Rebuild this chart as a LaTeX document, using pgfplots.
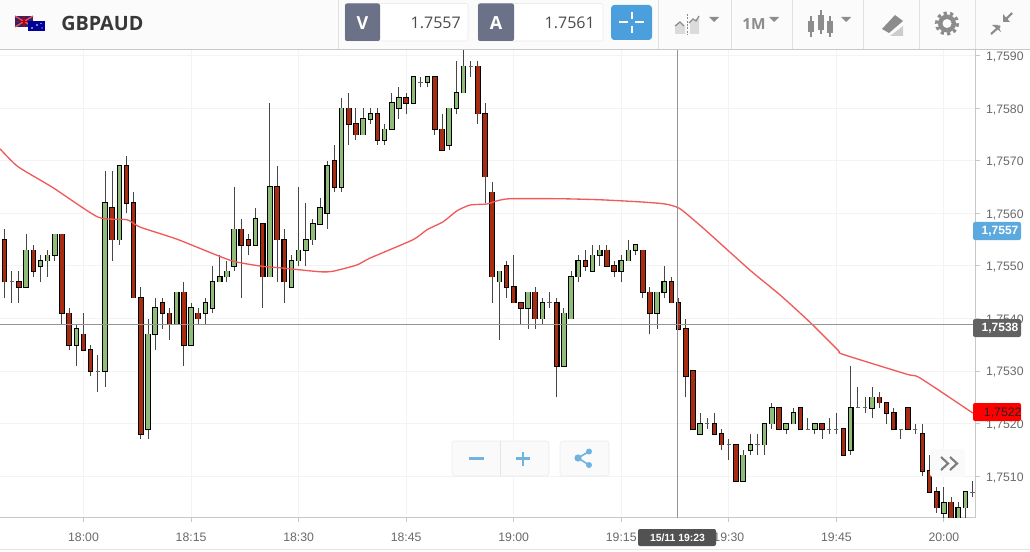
\documentclass[border=0pt]{standalone}
\usepackage{fontspec}
\usepackage{pgfplots}
\usepackage{pgfplotstable}
\pgfplotsset{compat=1.18}
\setmainfont{Liberation Sans}
\newfontfamily\headfont{Open Sans}
\definecolor{upGreen}{RGB}{143,188,120}
\definecolor{downRed}{RGB}{168,44,18}
\definecolor{maRed}{RGB}{240,90,90}
\definecolor{gridGray}{RGB}{243,243,243}
\definecolor{axisGray}{RGB}{200,200,200}
\definecolor{labelGray}{RGB}{105,105,105}
\definecolor{slate}{RGB}{107,113,134}
\definecolor{iconGray}{RGB}{140,140,140}
\definecolor{btnBlue}{RGB}{74,159,220}
\definecolor{softBlue}{RGB}{112,179,224}

% minutes after 18:00, open high low close
\pgfplotstableread{
m o h l c
-8 1.7546 1.7556 1.7546 1.7553
-6 1.7550 1.7552 1.7547 1.7551
-5 1.7551 1.7553 1.7548 1.7552
-4 1.7552 1.7556 1.7551 1.7556
-1 1.7535 1.7539 1.7531 1.7538
3 1.7530 1.7568 1.7527 1.7562
5 1.7555 1.7569 1.7554 1.7569
9 1.7519 1.7540 1.7517 1.7537
10 1.7537 1.7544 1.7534 1.7542
13 1.7539 1.7545 1.7539 1.7545
15 1.7535 1.7543 1.7535 1.7542
17 1.7541 1.7544 1.7539 1.7543
18 1.7542 1.7550 1.7541 1.7547
19 1.7547 1.7552 1.7547 1.7548
20 1.7548 1.7551 1.7547 1.7549
21 1.7550 1.7565 1.7549 1.7557
24 1.7554 1.7561 1.7554 1.7559
26 1.7548 1.7581 1.7548 1.7565
29 1.7546 1.7552 1.7546 1.7551
30 1.7551 1.7565 1.7550 1.7553
31 1.7553 1.7562 1.7550 1.7555
32 1.7555 1.7559 1.7554 1.7558
33 1.7558 1.7563 1.7558 1.7561
34 1.7560 1.7570 1.7557 1.7569
36 1.7565 1.7582 1.7564 1.7580
39 1.7575 1.7580 1.7575 1.7578
40 1.7578 1.7580 1.7577 1.7579
42 1.7574 1.7577 1.7573 1.7576
43 1.7576 1.7583 1.7576 1.7581
44 1.7580 1.7584 1.7578 1.7582
46 1.7581 1.7586 1.7581 1.7586
48 1.7585 1.7586 1.7584 1.7586
51 1.7573 1.7580 1.7572 1.7580
52 1.7580 1.7589 1.7579 1.7583
53 1.7583 1.7592 1.7583 1.7588
58 1.7547 1.7549 1.7536 1.7549
62 1.7542 1.7545 1.7538 1.7545
64 1.7540 1.7544 1.7539 1.7543
67 1.7531 1.7542 1.7531 1.7541
68 1.7540 1.7549 1.7540 1.7548
69 1.7548 1.7552 1.7547 1.7551
71 1.7549 1.7554 1.7549 1.7552
72 1.7552 1.7554 1.7550 1.7553
75 1.7549 1.7552 1.7547 1.7551
76 1.7551 1.7555 1.7551 1.7553
77 1.7553 1.7554 1.7552 1.7554
80 1.7541 1.7545 1.7538 1.7545
81 1.7545 1.7550 1.7544 1.7547
86 1.7518 1.7522 1.7518 1.7520
92 1.7509 1.7515 1.7509 1.7514
93 1.7515 1.7518 1.7514 1.7516
95 1.7516 1.7520 1.7514 1.7520
96 1.7520 1.7524 1.7519 1.7523
98 1.7519 1.7520 1.7518 1.7520
99 1.7520 1.7523 1.7520 1.7522
102 1.7519 1.7520 1.7518 1.7520
107 1.7515 1.7531 1.7514 1.7523
110 1.7523 1.7527 1.7521 1.7525
120 1.7503 1.7508 1.7502 1.7505
122 1.7502 1.7505 1.7502 1.7504
123 1.7504 1.7507 1.7502 1.7507
}\upcandles

\pgfplotstableread{
m o h l c
-11 1.7555 1.7557 1.7544 1.7547
-9 1.7547 1.7549 1.7543 1.7546
-7 1.7553 1.7554 1.7548 1.7549
-3 1.7556 1.7556 1.7539 1.7541
-2 1.7541 1.7542 1.7534 1.7535
0 1.7537 1.7541 1.7534 1.7534
1 1.7534 1.7535 1.7529 1.7530
4 1.7561 1.7568 1.7551 1.7555
6 1.7569 1.7571 1.7560 1.7562
7 1.7562 1.7564 1.7544 1.7544
8 1.7544 1.7546 1.7517 1.7518
11 1.7543 1.7544 1.7538 1.7541
12 1.7541 1.7542 1.7536 1.7539
14 1.7545 1.7547 1.7531 1.7535
16 1.7541 1.7542 1.7539 1.7540
22 1.7557 1.7559 1.7544 1.7554
23 1.7555 1.7556 1.7552 1.7554
25 1.7558 1.7558 1.7542 1.7548
27 1.7565 1.7569 1.7547 1.7555
28 1.7555 1.7557 1.7543 1.7547
35 1.7570 1.7573 1.7564 1.7565
37 1.7580 1.7583 1.7573 1.7577
38 1.7577 1.7580 1.7574 1.7575
41 1.7579 1.7580 1.7573 1.7574
45 1.7582 1.7583 1.7579 1.7581
49 1.7586 1.7586 1.7575 1.7576
50 1.7576 1.7579 1.7572 1.7572
55 1.7588 1.7589 1.7577 1.7579
56 1.7579 1.7581 1.7562 1.7567
57 1.7564 1.7566 1.7543 1.7548
59 1.7550 1.7551 1.7544 1.7546
60 1.7546 1.7552 1.7543 1.7543
61 1.7543 1.7543 1.7539 1.7542
63 1.7545 1.7546 1.7538 1.7540
66 1.7543 1.7544 1.7525 1.7531
70 1.7551 1.7553 1.7549 1.7550
73 1.7553 1.7554 1.7550 1.7550
74 1.7550 1.7551 1.7548 1.7549
78 1.7553 1.7553 1.7544 1.7545
79 1.7545 1.7546 1.7537 1.7541
82 1.7547 1.7548 1.7543 1.7543
83 1.7543 1.7544 1.7538 1.7538
84 1.7538 1.7540 1.7525 1.7529
85 1.7530 1.7530 1.7519 1.7519
88 1.7520 1.7522 1.7518 1.7518
89 1.7518 1.7519 1.7515 1.7516
91 1.7516 1.7516 1.7509 1.7509
97 1.7523 1.7523 1.7519 1.7519
100 1.7523 1.7523 1.7519 1.7519
103 1.7520 1.7520 1.7517 1.7519
106 1.7519 1.7519 1.7514 1.7514
111 1.7525 1.7526 1.7523 1.7524
112 1.7524 1.7524 1.7520 1.7522
113 1.7522 1.7523 1.7519 1.7519
115 1.7523 1.7523 1.7519 1.7519
117 1.7518 1.7520 1.7510 1.7511
118 1.7511 1.7514 1.7507 1.7507
119 1.7507 1.7508 1.7503 1.7504
121 1.7505 1.7506 1.7501 1.7501
}\downcandles

\pgfplotstableread{
m o h l c
-10 1.7547 1.7549 1.7543 1.7547
2 1.7530 1.7533 1.7526 1.7530
47 1.7585 1.7586 1.7584 1.7585
54 1.7588 1.7589 1.7586 1.7588
65 1.7543 1.7545 1.7542 1.7543
87 1.7520 1.7521 1.7519 1.7520
90 1.7516 1.7517 1.7513 1.7516
94 1.7516 1.7518 1.7514 1.7516
101 1.7519 1.7521 1.7519 1.7519
104 1.7519 1.7521 1.7518 1.7519
105 1.7519 1.7522 1.7518 1.7519
108 1.7523 1.7527 1.7523 1.7523
109 1.7523 1.7525 1.7522 1.7523
114 1.7519 1.7519 1.7517 1.7519
116 1.7519 1.7520 1.7518 1.7519
124 1.7507 1.7509 1.7506 1.7507
}\dojicandles

\pgfplotstableread{
m p
-11.65 1.75723
-9.14 1.75689
-4.25 1.75649
2.02 1.75593
6.07 1.75588
7.88 1.75574
13.04 1.75551
20.43 1.75511
24.62 1.75500
27.82 1.75496
32.98 1.75489
34.80 1.75490
38.14 1.75502
39.96 1.75515
45.96 1.75550
47.91 1.75569
50.14 1.75584
52.09 1.75605
53.91 1.75616
56.28 1.75618
57.67 1.75624
59.48 1.75628
66.46 1.75628
72.04 1.75626
77.62 1.75622
81.10 1.75618
83.19 1.75609
86.68 1.75569
92.96 1.75492
97.14 1.75445
101.32 1.75393
105.23 1.75340
105.90 1.75332
114.85 1.75294
116.66 1.75287
124.05 1.75220
}\maline

% a candle part is a vertical quiver arrow with no tip
\newcommand{\wicks}[1]{\addplot[forget plot, no marks, black!72, line width=0.75pt, line cap=butt,
  quiver={u=0, v=\thisrow{h}-\thisrow{l}}] table[x=m,y=l] {#1};}
\newcommand{\fs}[1]{\fontsize{#1}{#1}\selectfont}

\begin{document}
\begin{tikzpicture}
\path[use as bounding box] (0,0) rectangle (772.5pt,-414pt);
\begin{axis}[
  at={(0pt,-388.3pt)}, anchor=south west,
  scale only axis, width=731.8pt, height=351.2pt,
  xmin=-11.646, xmax=124.44, ymin=1.75021, ymax=1.75912,
  axis y line*=right, axis x line*=bottom,
  axis line style={axisGray, line width=0.9pt, -},
  grid=major, grid style={gridGray, line width=0.75pt},
  xtick={0,15,30,45,60,75,90,105,120},
  xticklabels={18:00,18:15,18:30,18:45,19:00,19:15,19:30,19:45,20:00},
  ytick={1.751,1.752,1.753,1.754,1.755,1.756,1.757,1.758,1.759},
  tick align=outside, tick style={axisGray, line width=0.75pt},
  major tick length=3pt,
  tick label style={font=\fs{9.2}, color=labelGray},
  xticklabel style={yshift=-5pt},
  yticklabel style={xshift=1.2pt, yshift=-1pt},
  /pgf/number format/.cd, fixed, fixed zerofill, precision=4, use comma, assume math mode=true,
  /tikz/.cd,
]
\wicks{\upcandles}
\wicks{\downcandles}
\wicks{\dojicandles}
\addplot[only marks, mark=-, mark size=1.6pt, mark options={draw=black!60, line width=0.6pt}, forget plot]
  table[x=m,y=o] {\dojicandles};
% bodies: black slab first, colour on top of it
\addplot[forget plot, no marks, black, line width=4.2pt, line cap=butt,
  quiver={u=0, v=\thisrow{c}-\thisrow{o}+0.000026}] table[x=m,y expr=\thisrow{o}-0.000013] {\upcandles};
\addplot[forget plot, no marks, upGreen, line width=2.6pt, line cap=butt,
  quiver={u=0, v=\thisrow{c}-\thisrow{o}}] table[x=m,y=o] {\upcandles};
\addplot[forget plot, no marks, black, line width=4.2pt, line cap=butt,
  quiver={u=0, v=\thisrow{o}-\thisrow{c}+0.000026}] table[x=m,y expr=\thisrow{c}-0.000013] {\downcandles};
\addplot[forget plot, no marks, downRed, line width=2.6pt, line cap=butt,
  quiver={u=0, v=\thisrow{o}-\thisrow{c}}] table[x=m,y=c] {\downcandles};
\addplot[maRed, line width=1pt, no marks, smooth, tension=0.35] table[x=m,y=p] {\maline};
% crosshair
\addplot[black!42, line width=0.6pt, no marks, forget plot] coordinates {(-11.646,1.75388) (124.44,1.75388)};
\addplot[black!42, line width=0.6pt, no marks, forget plot] coordinates {(82.85,1.75021) (82.85,1.75912)};
\end{axis}

\begin{scope}[x=0.75pt,y=-0.75pt]
% header bar
\fill[black!1.5] (0,0) rectangle (1030,49);
\draw[axisGray, line width=0.75pt] (0,49.5) -- (1030,49.5);
\foreach \xx in {338.5,658,731,792,863,919,975}
  \draw[black!12, line width=0.75pt] (\xx,0) -- (\xx,49);
% flags
\fill[blue!35!black!85] (15,16) rectangle (33,27);
\draw[red!70!white, line width=1pt] (15,16) -- (33,27) (15,27) -- (33,16);
\draw[white, line width=1.3pt] (24,16) -- (24,27) (15,21.5) -- (33,21.5);
\draw[red!75!black, line width=0.8pt] (24,16) -- (24,27) (15,21.5) -- (33,21.5);
\fill[blue!60!black] (28,21) rectangle (45,31);
\fill[white] (37,25) circle (0.8) (41,23.5) circle (0.6) (42,28) circle (0.6) (32,28) circle (0.9);
\node[anchor=west, inner sep=0pt, text=black!78] at (61,23) {\headfont\fs{14.8}\bfseries GBPAUD};
% bid and ask boxes
\fill[white, rounded corners=1.5pt] (345,3.5) rectangle (468,41);
\draw[black!8, rounded corners=1.5pt] (345,3.5) rectangle (468,41);
\fill[slate, rounded corners=1.5pt] (345,3.5) rectangle (380,41);
\node[text=white] at (362.5,23) {\headfont\fs{13.5}\bfseries V};
\node[anchor=east, inner sep=0pt, text=black!70] at (461,23) {\headfont\fs{12}1.7557};
\fill[white, rounded corners=1.5pt] (478,3.5) rectangle (603,41);
\draw[black!8, rounded corners=1.5pt] (478,3.5) rectangle (603,41);
\fill[slate, rounded corners=1.5pt] (478,3.5) rectangle (514,41);
\node[text=white] at (496,23) {\headfont\fs{13.5}\bfseries A};
\node[anchor=east, inner sep=0pt, text=black!70] at (595,23) {\headfont\fs{12}1.7561};
% crosshair button
\fill[btnBlue, rounded corners=2.5pt] (611,5) rectangle (652,40);
\draw[white, line width=1.5pt] (619,22.5) -- (628,22.5) (635,22.5) -- (644,22.5) (631.5,12) -- (631.5,19) (631.5,26) -- (631.5,33);
% toolbar icons
\fill[black!14] (675,26) -- (680,22) -- (685,26) -- (685,34) -- (675,34) -- cycle;
\fill[black!14] (690,22) -- (696,19) -- (699,16) -- (699,34) -- (690,34) -- cycle;
\draw[iconGray, line width=0.9pt] (675,26) -- (680,22) -- (684,26) (689,23) -- (693,19) -- (696,21) -- (699,16);
\draw[iconGray, dash pattern=on 1.5pt off 1pt, line width=0.6pt] (687,14) -- (687,35);
\foreach \xx in {714,774,846} \fill[iconGray] (\xx-5,17) -- (\xx+5,17) -- (\xx,22) -- cycle;
\node[text=iconGray, inner sep=0pt] at (754,24) {\headfont\fs{11.5}\bfseries 1M};
\foreach \xx/\a/\b/\c/\d in {811/16/21/32/37, 821/10/15/30/34, 830/16/21/33/37} {
  \draw[iconGray, line width=0.9pt] (\xx,\a) -- (\xx,\d);
  \fill[iconGray] (\xx-3,\b) rectangle (\xx+3,\c);
}
\fill[iconGray] (882,29) -- (895,15) -- (903,21) -- (889,33) -- cycle;
\fill[black!20] (890,36) -- (903,26) -- (903,36) -- cycle;
\fill[iconGray] (947,23.5) circle (9);
\draw[iconGray, line width=2.4pt, dash pattern=on 2.4pt off 2.5pt] (947,23.5) circle (10.5);
\fill[black!1.5] (947,23.5) circle (4.5);
\draw[iconGray, line width=1.6pt] (991,34) -- (1000,26) (1012,13) -- (1004,21);
\fill[iconGray] (998,25) -- (1001,32) -- (992,25) -- cycle;
\fill[iconGray] (1003,22) -- (1003,14) -- (1010,22) -- cycle;
% price badges
\fill[btnBlue!90!white, rounded corners=1.5pt] (973,222) rectangle (1021,240);
\node[text=white, inner sep=0pt] at (1000,231.5) {\fs{9}\bfseries 1,7557};
\fill[black!62, rounded corners=1.5pt] (973,319) rectangle (1021,337);
\node[text=white, inner sep=0pt] at (1000,328.5) {\fs{9}\bfseries 1,7538};
\fill[red, rounded corners=1.5pt] (973,403) rectangle (1021,421);
\node[text=black!85, inner sep=0pt] at (1001,413) {\fs{9.2} 1,7522};
% time tag
\fill[black!68, rounded corners=1.5pt] (638,529) rectangle (716,546);
\node[text=white, inner sep=0pt] at (677.5,537.5) {\fs{7.8}\bfseries 15/11 19:23};
% zoom buttons
\fill[black!2, rounded corners=2pt] (452,441) rectangle (549,476);
\draw[black!8, rounded corners=2pt] (452,441) rectangle (549,476);
\draw[black!10] (500,441) -- (500,476);
\draw[softBlue, line width=2pt] (469,458.5) -- (484,458.5);
\draw[softBlue, line width=2pt] (516,458.5) -- (530,458.5) (523,451.5) -- (523,465.5);
\fill[black!2, rounded corners=2pt] (560,441) rectangle (609,476);
\draw[black!8, rounded corners=2pt] (560,441) rectangle (609,476);
\draw[softBlue, line width=1.2pt] (578,458) -- (589,451.5) (578,458) -- (589,465);
\fill[softBlue] (578,458) circle (3.6) (589,451.5) circle (3) (589,465) circle (3);
\fill[black!2, rounded corners=2pt] (930,449) rectangle (965,477);
\draw[iconGray!90!black, line width=1.6pt] (941,457) -- (948,463.5) -- (941,470) (950,457) -- (957,463.5) -- (950,470);
% bottom edge
\draw[black!10, line width=0.75pt] (0,549) -- (1030,549);
\end{scope}
\end{tikzpicture}
\end{document}
